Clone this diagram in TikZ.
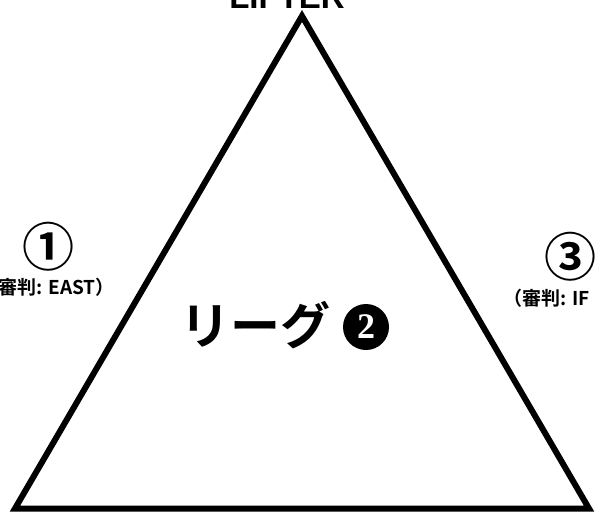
\documentclass[tikz,border=0pt]{standalone}
\usepackage{fontspec}
\setmainfont{Liberation Sans}[BoldFont={Liberation Sans Bold}]
\newfontfamily\jp{Noto Sans CJK JP Bold}
\newfontfamily\serifnum{Liberation Serif Bold}
\begin{document}
\begin{tikzpicture}[x=1pt,y=-1pt,
  lbl/.style={inner sep=0pt},
  tri/.style={line width=6pt, line join=miter}]
\useasboundingbox[fill=white] (0,0) rectangle (595,512);
\coordinate (top) at (302,16);
\coordinate (bl) at (15,508.5);
\coordinate (br) at (589,508.5);
\draw[tri] (top) -- (bl) -- (br) -- cycle;
\node[lbl, anchor=base, font=\fontspec{Liberation Sans Bold}\fontsize{33}{33}\selectfont] (lifter) at (287,8) {LIFTER};
\node[lbl, font=\jp\fontsize{52}{52}\selectfont] (c1) at (49,247) {①};
\node[lbl, anchor=east, font=\jp\fontsize{19}{19}\selectfont] (r1) at (115,287) {（審判: EAST）};
\node[lbl, font=\jp\fontsize{52}{52}\selectfont] (c3) at (570,257) {③};
\node[lbl, anchor=west, font=\jp\fontsize{19}{19}\selectfont] (r3) at (503,298) {（審判: IF};
\node[lbl, font=\jp\fontsize{50}{50}\selectfont] (league) at (255,325) {リーグ};
\node[circle, fill=black, minimum size=46pt, inner sep=0pt, text=white,
  font=\serifnum\fontsize{36}{36}\selectfont] (c2) at (366,327) {2};
\end{tikzpicture}
\end{document}
